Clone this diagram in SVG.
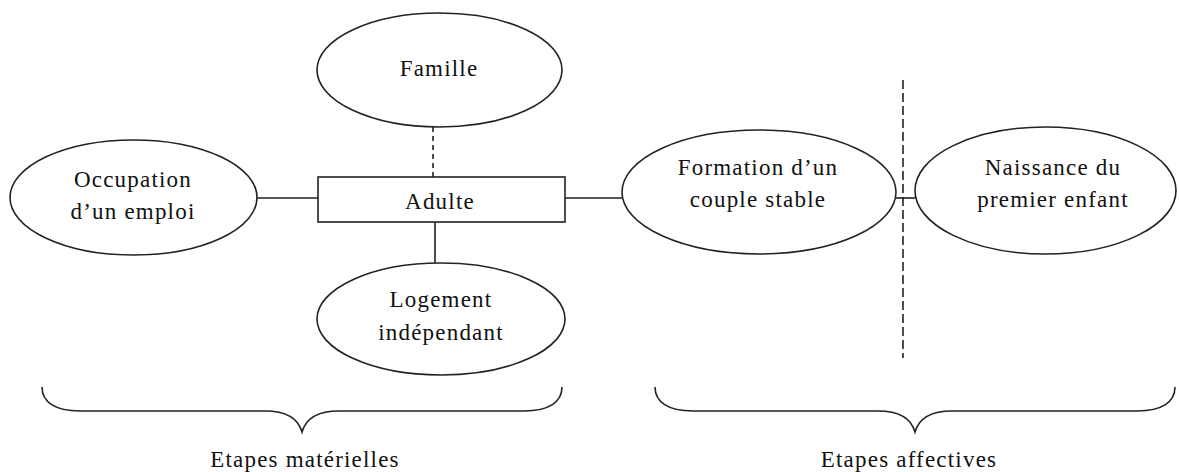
<svg xmlns="http://www.w3.org/2000/svg" width="1179" height="472" viewBox="0 0 1179 472">
<style>
.shape{fill:#fff;stroke:#222;stroke-width:1.6}
.ln{fill:none;stroke:#222;stroke-width:1.6}
.dash{fill:none;stroke:#222;stroke-width:1.6;stroke-dasharray:5 4}
.dash2{fill:none;stroke:#222;stroke-width:1.6;stroke-dasharray:9 4}
text{font-family:"Liberation Serif","Times New Roman",serif;font-size:23px;letter-spacing:1.2px;fill:#111;text-anchor:middle}
</style>
<rect width="1179" height="472" fill="#fff"/>
<g id="connectors">
<line class="dash" x1="433" y1="127" x2="433" y2="177"/>
<line class="ln" x1="257" y1="198" x2="318" y2="198"/>
<line class="ln" x1="565" y1="198" x2="622" y2="198"/>
<line class="ln" x1="435" y1="222" x2="435" y2="263"/>
<line class="ln" x1="896" y1="198" x2="915" y2="198"/>
<line class="dash2" x1="903" y1="80" x2="903" y2="358"/>
</g>
<g id="famille">
<ellipse class="shape" cx="439.5" cy="70" rx="122.5" ry="57"/>
<text x="439" y="76">Famille</text>
</g>
<g id="occupation">
<ellipse class="shape" cx="133.5" cy="197.5" rx="123.5" ry="57.5"/>
<text x="133" y="187">Occupation</text>
<text x="133" y="219">d’un emploi</text>
</g>
<g id="adulte">
<rect class="shape" x="318" y="177" width="247" height="45"/>
<text x="440" y="209">Adulte</text>
</g>
<g id="logement">
<ellipse class="shape" cx="441" cy="319" rx="124" ry="56"/>
<text x="441" y="307">Logement</text>
<text x="441" y="340">indépendant</text>
</g>
<g id="formation">
<ellipse class="shape" cx="759" cy="192" rx="137" ry="62"/>
<text x="758" y="175">Formation d’un</text>
<text x="758" y="207">couple stable</text>
</g>
<g id="naissance">
<ellipse class="shape" cx="1045.5" cy="190.5" rx="130.5" ry="63.5"/>
<text x="1053" y="175">Naissance du</text>
<text x="1053" y="207">premier enfant</text>
</g>
<g id="brace-materielles">
<path class="ln" d="M42,387 C42,402 55,411 80,411 L265,411 C285,411 298,418 302,432 C306,418 319,411 339,411 L524,411 C549,411 562,402 562,387"/>
<text x="305" y="467">Etapes matérielles</text>
</g>
<g id="brace-affectives">
<path class="ln" d="M655,387 C655,402 668,411 693,411 L878,411 C898,411 911,418 915,432 C919,418 932,411 952,411 L1137,411 C1162,411 1175,402 1175,387"/>
<text x="909" y="467">Etapes affectives</text>
</g>
</svg>
